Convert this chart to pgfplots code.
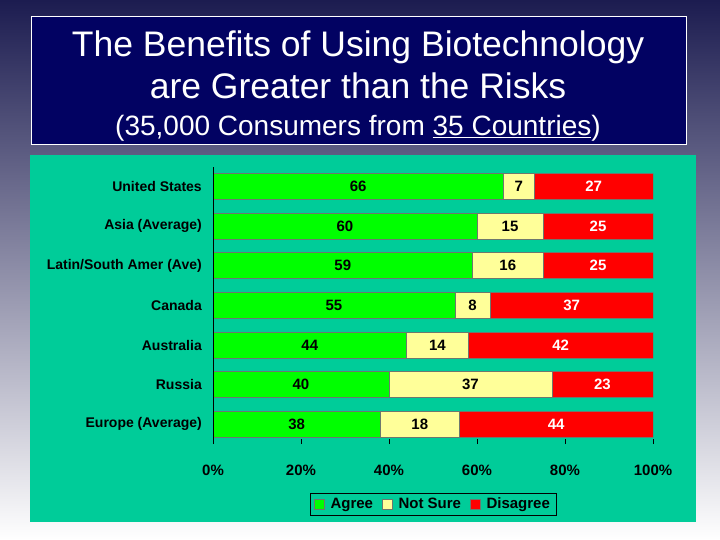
\documentclass[border=0pt]{standalone}
\usepackage{fontspec}
\setmainfont{Liberation Sans}
\usepackage{pgfplots}
\usepackage{pgfplotstable}
\pgfplotsset{compat=1.18}

\definecolor{bgtop}{RGB}{28,28,80}
\definecolor{bgmid}{RGB}{198,198,212}
\definecolor{titlenavy}{RGB}{2,2,98}
\definecolor{panel}{RGB}{0,204,153}
\definecolor{agreeg}{RGB}{0,255,0}
\definecolor{unsurey}{RGB}{255,255,153}
\definecolor{disred}{RGB}{255,0,0}
\definecolor{bardraw}{RGB}{110,120,110}

% rows top to bottom, idx 6 = top bar
\pgfplotstableread{
idx agree unsure disagree
6 66 7 27
5 60 15 25
4 59 16 25
3 55 8 37
2 44 14 42
1 40 37 23
0 38 18 44
}\results

\newcommand\catfont{\fontsize{14bp}{16bp}\selectfont\bfseries}
\newcommand\valfont{\fontsize{15bp}{17bp}\selectfont\bfseries}

\begin{document}
\begin{tikzpicture}
\useasboundingbox (0,0) rectangle (720bp,540bp);
\shade[top color=bgtop, middle color=bgmid, bottom color=white] (0,0) rectangle (720bp,540bp);

% title box
\draw[white, line width=1bp, fill=titlenavy] (31bp,395bp) rectangle (686bp,523bp);
\node[anchor=base, white, inner sep=0pt, font=\fontsize{35.5bp}{42bp}\selectfont] at (358bp,483bp) {The Benefits of Using Biotechnology};
\node[anchor=base, white, inner sep=0pt, font=\fontsize{35.5bp}{42bp}\selectfont] at (358bp,441bp) {are Greater than the Risks};
\node[anchor=base, white, inner sep=0pt, font=\fontsize{28bp}{33bp}\selectfont] at (358bp,404.5bp) {(35,000 Consumers from \underline{35 Countries})};

% chart panel
\fill[panel] (30bp,18bp) rectangle (696bp,385bp);

\begin{axis}[
  at={(213bp,101bp)}, anchor=south west,
  scale only axis, width=440bp, height=272bp,
  axis on top,
  xbar stacked, bar width=26bp,
  xmin=0, xmax=100, ymin=-0.37, ymax=6.49,
  axis x line=bottom, axis y line=left,
  x axis line style={draw=none},
  y axis line style={-, black, line width=0.8bp},
  tick align=outside, major tick length=5bp,
  xtick={0,20,40,60,80,100},
  xticklabels={0\%,20\%,40\%,60\%,80\%,100\%},
  xtick style={black, line width=0.6bp},
  xticklabel style={font=\valfont, anchor=north, inner sep=0pt, yshift=-20.5bp},
  ytick={0,1,2,3,4,5,6},
  yticklabels={Europe (Average),Russia,Australia,Canada,Latin/South Amer (Ave),Asia (Average),United States},
  ytick style={draw=none},
  yticklabel style={font=\catfont, anchor=east, inner sep=0pt, xshift=-6bp},
  /pgf/number format/assume math mode=true,
  point meta=explicit,
  nodes near coords={\pgfmathprintnumber{\pgfplotspointmeta}},
  nodes near coords style={font=\valfont, anchor=center, inner sep=0pt},
  legend columns=3,
  legend style={at={(0.5,-0.24)}, anchor=center, draw=black, fill=none, line width=0.6bp,
    font=\valfont, inner xsep=4bp, inner ysep=3bp,
    /tikz/every odd column/.append style={column sep=4bp},
    /tikz/every even column/.append style={column sep=7bp}},
  legend image code/.code={\draw[#1, line width=0.5bp] (0bp,-5bp) rectangle (10bp,5bp);},
]
\addplot[fill=agreeg, draw=bardraw, line width=0.5bp,
  every node near coord/.append style={text=black}]
  table[x=agree, y=idx, meta=agree] {\results};
\addplot[fill=unsurey, draw=bardraw, line width=0.5bp,
  every node near coord/.append style={text=black}]
  table[x=unsure, y=idx, meta=unsure] {\results};
\addplot[fill=disred, draw=bardraw, line width=0.5bp,
  every node near coord/.append style={text=white}]
  table[x=disagree, y=idx, meta=disagree] {\results};
\legend{Agree,Not Sure,Disagree}
\end{axis}
\end{tikzpicture}
\end{document}
